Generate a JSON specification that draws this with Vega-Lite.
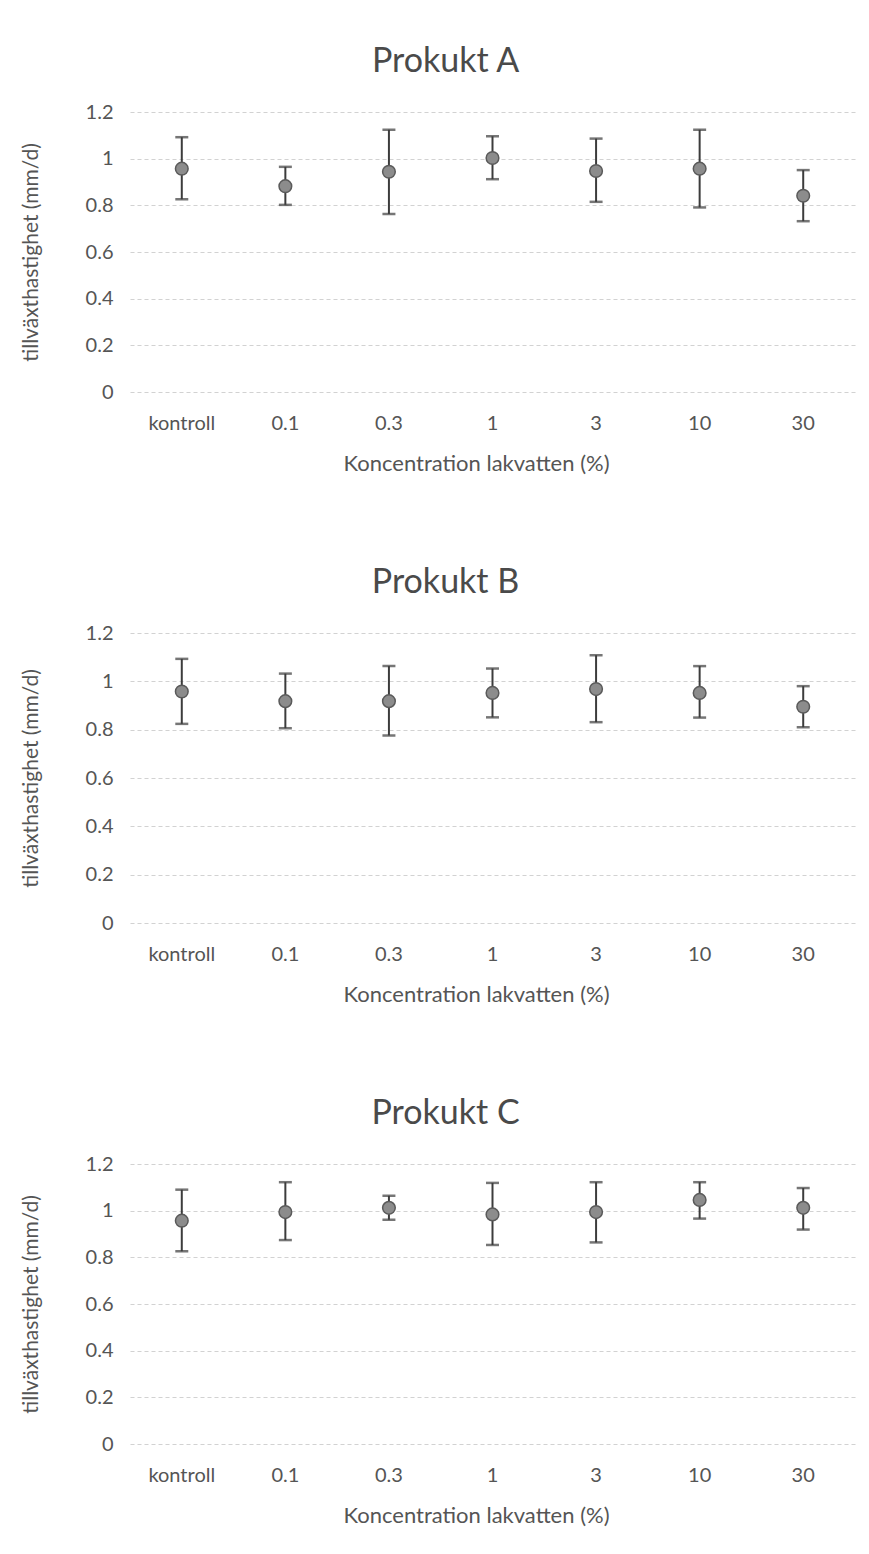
{
  "$schema": "https://vega.github.io/schema/vega-lite/v6.json",
  "background": "white",
  "padding": {"left": 20, "top": 45, "right": 14, "bottom": 22},
  "spacing": 92,
  "datasets": {
    "A": [
      {"konc": "kontroll", "mean": 0.957, "low": 0.826, "high": 1.092},
      {"konc": "0.1", "mean": 0.882, "low": 0.802, "high": 0.965},
      {"konc": "0.3", "mean": 0.944, "low": 0.763, "high": 1.124},
      {"konc": "1", "mean": 1.003, "low": 0.912, "high": 1.096},
      {"konc": "3", "mean": 0.947, "low": 0.815, "high": 1.086},
      {"konc": "10", "mean": 0.957, "low": 0.791, "high": 1.124},
      {"konc": "30", "mean": 0.841, "low": 0.732, "high": 0.951}
    ],
    "B": [
      {"konc": "kontroll", "mean": 0.958, "low": 0.824, "high": 1.093},
      {"konc": "0.1", "mean": 0.918, "low": 0.806, "high": 1.032},
      {"konc": "0.3", "mean": 0.918, "low": 0.776, "high": 1.063},
      {"konc": "1", "mean": 0.952, "low": 0.851, "high": 1.053},
      {"konc": "3", "mean": 0.968, "low": 0.831, "high": 1.108},
      {"konc": "10", "mean": 0.952, "low": 0.850, "high": 1.063},
      {"konc": "30", "mean": 0.895, "low": 0.810, "high": 0.980}
    ],
    "C": [
      {"konc": "kontroll", "mean": 0.957, "low": 0.826, "high": 1.090},
      {"konc": "0.1", "mean": 0.994, "low": 0.874, "high": 1.122},
      {"konc": "0.3", "mean": 1.012, "low": 0.961, "high": 1.064},
      {"konc": "1", "mean": 0.984, "low": 0.853, "high": 1.119},
      {"konc": "3", "mean": 0.994, "low": 0.864, "high": 1.122},
      {"konc": "10", "mean": 1.046, "low": 0.966, "high": 1.122},
      {"konc": "30", "mean": 1.012, "low": 0.919, "high": 1.097}
    ]
  },
  "config": {
    "font": "Lato",
    "view": {"stroke": null},
    "title": {"fontSize": 34, "font": "Lato", "fontWeight": "normal", "color": "#4a4a4a", "offset": 23, "anchor": "middle", "frame": "bounds", "dx": 8},
    "axis": {
      "labelFont": "Lato", "titleFont": "Lato", "labelColor": "#555555", "titleColor": "#555555",
      "titleFontWeight": "normal", "ticks": false, "domain": false
    },
    "axisX": {"labelFontSize": 20, "titleFontSize": 22, "labelAngle": 0, "labelPadding": 21, "titlePadding": 20, "grid": false, "titleX": 346},
    "axisY": {"labelFontSize": 20, "titleFontSize": 21, "labelPadding": 17, "titlePadding": 44, "grid": true, "gridColor": "#d2d2d2", "gridDash": [4, 3], "gridWidth": 1.2}
  },
  "vconcat": [
    {
      "title": "Prokukt A",
      "width": 725, "height": 280,
      "data": {"name": "A"},
      "encoding": {
        "x": {"field": "konc", "type": "nominal", "sort": ["kontroll", "0.1", "0.3", "1", "3", "10", "30"], "title": "Koncentration lakvatten (%)"}
      },
      "layer": [
        {"mark": {"type": "rule", "color": "#3c3c3c", "strokeWidth": 2}, "encoding": {"y": {"field": "low", "type": "quantitative", "scale": {"domain": [0, 1.2]}, "axis": {"values": [0, 0.2, 0.4, 0.6, 0.8, 1, 1.2], "format": "~g"}, "title": "tillväxthastighet (mm/d)"}, "y2": {"field": "high"}}},
        {"mark": {"type": "tick", "color": "#3c3c3c", "thickness": 2.5, "size": 13}, "encoding": {"y": {"field": "low", "type": "quantitative"}}},
        {"mark": {"type": "tick", "color": "#3c3c3c", "thickness": 2.5, "size": 13}, "encoding": {"y": {"field": "high", "type": "quantitative"}}},
        {"mark": {"type": "point", "shape": "circle", "filled": true, "fill": "#8c8c8c", "stroke": "#5a5a5a", "strokeWidth": 1.5, "size": 160, "opacity": 1}, "encoding": {"y": {"field": "mean", "type": "quantitative"}}}
      ]
    },
    {
      "title": "Prokukt B",
      "width": 725, "height": 290,
      "data": {"name": "B"},
      "encoding": {
        "x": {"field": "konc", "type": "nominal", "sort": ["kontroll", "0.1", "0.3", "1", "3", "10", "30"], "title": "Koncentration lakvatten (%)"}
      },
      "layer": [
        {"mark": {"type": "rule", "color": "#3c3c3c", "strokeWidth": 2}, "encoding": {"y": {"field": "low", "type": "quantitative", "scale": {"domain": [0, 1.2]}, "axis": {"values": [0, 0.2, 0.4, 0.6, 0.8, 1, 1.2], "format": "~g"}, "title": "tillväxthastighet (mm/d)"}, "y2": {"field": "high"}}},
        {"mark": {"type": "tick", "color": "#3c3c3c", "thickness": 2.5, "size": 13}, "encoding": {"y": {"field": "low", "type": "quantitative"}}},
        {"mark": {"type": "tick", "color": "#3c3c3c", "thickness": 2.5, "size": 13}, "encoding": {"y": {"field": "high", "type": "quantitative"}}},
        {"mark": {"type": "point", "shape": "circle", "filled": true, "fill": "#8c8c8c", "stroke": "#5a5a5a", "strokeWidth": 1.5, "size": 160, "opacity": 1}, "encoding": {"y": {"field": "mean", "type": "quantitative"}}}
      ]
    },
    {
      "title": "Prokukt C",
      "width": 725, "height": 280,
      "data": {"name": "C"},
      "encoding": {
        "x": {"field": "konc", "type": "nominal", "sort": ["kontroll", "0.1", "0.3", "1", "3", "10", "30"], "title": "Koncentration lakvatten (%)"}
      },
      "layer": [
        {"mark": {"type": "rule", "color": "#3c3c3c", "strokeWidth": 2}, "encoding": {"y": {"field": "low", "type": "quantitative", "scale": {"domain": [0, 1.2]}, "axis": {"values": [0, 0.2, 0.4, 0.6, 0.8, 1, 1.2], "format": "~g"}, "title": "tillväxthastighet (mm/d)"}, "y2": {"field": "high"}}},
        {"mark": {"type": "tick", "color": "#3c3c3c", "thickness": 2.5, "size": 13}, "encoding": {"y": {"field": "low", "type": "quantitative"}}},
        {"mark": {"type": "tick", "color": "#3c3c3c", "thickness": 2.5, "size": 13}, "encoding": {"y": {"field": "high", "type": "quantitative"}}},
        {"mark": {"type": "point", "shape": "circle", "filled": true, "fill": "#8c8c8c", "stroke": "#5a5a5a", "strokeWidth": 1.5, "size": 160, "opacity": 1}, "encoding": {"y": {"field": "mean", "type": "quantitative"}}}
      ]
    }
  ]
}
